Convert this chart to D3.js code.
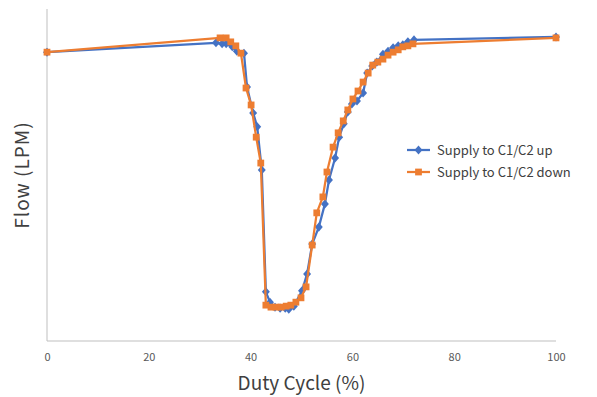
<!DOCTYPE html>
<html>
<head>
<meta charset="utf-8">
<script src="https://cdn.jsdelivr.net/npm/d3@7"></script>
<style>
  body { margin: 0; background: #fff; }
  text { font-family: 'Noto Sans CJK KR', 'Noto Sans', sans-serif; }
</style>
</head>
<body>
<div id="chart"></div>
<script>
// duty cycle (%) and relative flow (no y scale is printed in the original)
var upX = [0, 33.2, 34.4, 35.2, 36.4, 37.3, 38.7, 39.3, 40.5, 41.3, 42.2, 43.0, 43.8, 44.8, 45.8, 46.8, 47.5, 48.5,
  50.1, 51.1, 52.1, 53.4, 54.6, 55.4, 56.6, 57.4, 58.3, 59.1, 59.9, 60.9, 62.1, 62.9, 63.9, 64.8, 66.0, 67.0, 68.0,
  69.0, 69.9, 70.9, 72.1, 100];
var upY = [87.0, 89.8, 89.5, 89.5, 88.6, 87.3, 86.7, 76.5, 68.7, 64.5, 51.5, 14.8, 11.7, 10.2, 9.9, 9.9, 9.6, 10.5,
  15.1, 20.2, 29.2, 34.3, 41.3, 48.5, 55.1, 61.4, 65.4, 69.0, 71.4, 72.3, 74.7, 80.7, 82.8, 84.0, 86.4, 87.3, 88.3,
  88.9, 89.2, 90.1, 90.7, 91.6];
var downX = [0, 34.0, 35.2, 36.1, 37.1, 38.1, 39.1, 40.1, 41.1, 42.0, 43.0, 44.0, 45.0, 46.0, 47.0, 47.9, 48.9, 49.9,
  50.9, 52.1, 53.0, 54.2, 55.0, 56.2, 57.2, 58.2, 59.1, 60.1, 61.1, 62.1, 63.1, 64.0, 65.0, 66.0, 67.0, 68.0, 69.0,
  69.9, 70.9, 71.9, 100];
var downY = [87.0, 91.3, 91.3, 90.1, 88.9, 86.7, 76.2, 71.1, 61.4, 53.6, 10.8, 10.2, 10.2, 10.2, 10.5, 10.8, 11.7, 13.0,
  16.3, 28.9, 38.6, 43.4, 50.9, 58.4, 62.7, 66.3, 69.6, 72.9, 75.3, 78.0, 80.7, 83.1, 84.0, 84.9, 86.1, 87.0, 87.7,
  88.6, 88.9, 89.5, 91.3];
var xTicks = [0, 20, 40, 60, 80, 100];
var seriesNames = ['Supply to C1/C2 up', 'Supply to C1/C2 down'];

var WIDTH = 597, HEIGHT = 397;
var BLUE = '#4472c4', ORANGE = '#ed7d31';

function zipPoints(xs, ys) {
  return xs.map(function (x, i) { return { x: x, y: ys[i] }; });
}

/** Marker path and transform for a series shape. */
function markerPath(isSquare) {
  return d3.symbol().type(isSquare ? d3.symbolSquare : d3.symbolDiamond).size(isSquare ? 46 : 26)();
}
function markerScale(isSquare) {
  return isSquare ? '' : ' scale(1.45,0.95)';
}

var svg = d3.select('#chart').append('svg').attr('width', WIDTH).attr('height', HEIGHT);

var x = d3.scaleLinear().domain([0, 100]).range([47, 556]);
var y = d3.scaleLinear().domain([0, 100]).range([341, 9]);

// axes lines
svg.append('line').attr('x1', x(0)).attr('x2', x(0)).attr('y1', y(100)).attr('y2', y(0))
  .attr('stroke', '#bfbfbf').attr('stroke-width', 1);
svg.append('line').attr('x1', x(0)).attr('x2', x(100)).attr('y1', y(0)).attr('y2', y(0))
  .attr('stroke', '#bfbfbf').attr('stroke-width', 1);

// x tick labels
var xAxis = d3.axisBottom(x).tickValues(xTicks).tickSize(0).tickPadding(12);
var gx = svg.append('g').attr('transform', 'translate(0,' + y(0) + ')').call(xAxis);
gx.select('.domain').remove();
gx.selectAll('text').attr('fill', '#595959').style('font-size', '11px')
  .style('font-family', "'Noto Sans CJK KR', 'Noto Sans', sans-serif");

// axis titles
svg.append('text').attr('x', (x(0) + x(100)) / 2).attr('y', 390).attr('text-anchor', 'middle')
  .attr('fill', '#404040').style('font-size', '19px').text('Duty Cycle (%)');
svg.append('text').attr('transform', 'translate(29,' + ((y(0) + y(100)) / 2) + ') rotate(-90)')
  .attr('text-anchor', 'middle').attr('fill', '#404040').style('font-size', '19px')
  .style('letter-spacing', '1px').text('Flow (LPM)');

var line = d3.line().x(function (d) { return x(d.x); }).y(function (d) { return y(d.y); });

function drawSeries(data, color, isSquare) {
  var g = svg.append('g');
  g.append('path').datum(data).attr('d', line).attr('fill', 'none')
    .attr('stroke', color).attr('stroke-width', 2.25).attr('stroke-linejoin', 'round');
  g.selectAll('path.m').data(data).enter().append('path').attr('class', 'm')
    .attr('d', markerPath(isSquare)).attr('fill', color)
    .attr('transform', function (d) { return 'translate(' + x(d.x) + ',' + y(d.y) + ')' + markerScale(isSquare); });
}

drawSeries(zipPoints(upX, upY), BLUE, false);
drawSeries(zipPoints(downX, downY), ORANGE, true);

// legend
var legend = svg.append('g').attr('transform', 'translate(407,150)');
[BLUE, ORANGE].forEach(function (color, i) {
  var isSquare = i === 1;
  var row = legend.append('g').attr('transform', 'translate(0,' + (i * 22) + ')');
  row.append('line').attr('x1', 0).attr('x2', 23).attr('y1', 0).attr('y2', 0)
    .attr('stroke', color).attr('stroke-width', 2.25);
  row.append('path').attr('d', markerPath(isSquare)).attr('fill', color)
    .attr('transform', 'translate(11.5,0)' + markerScale(isSquare));
  row.append('text').attr('x', 30).attr('y', 0).attr('dy', '0.35em').attr('fill', '#404040')
    .style('font-size', '13px').text(seriesNames[i]);
});
</script>
</body>
</html>
